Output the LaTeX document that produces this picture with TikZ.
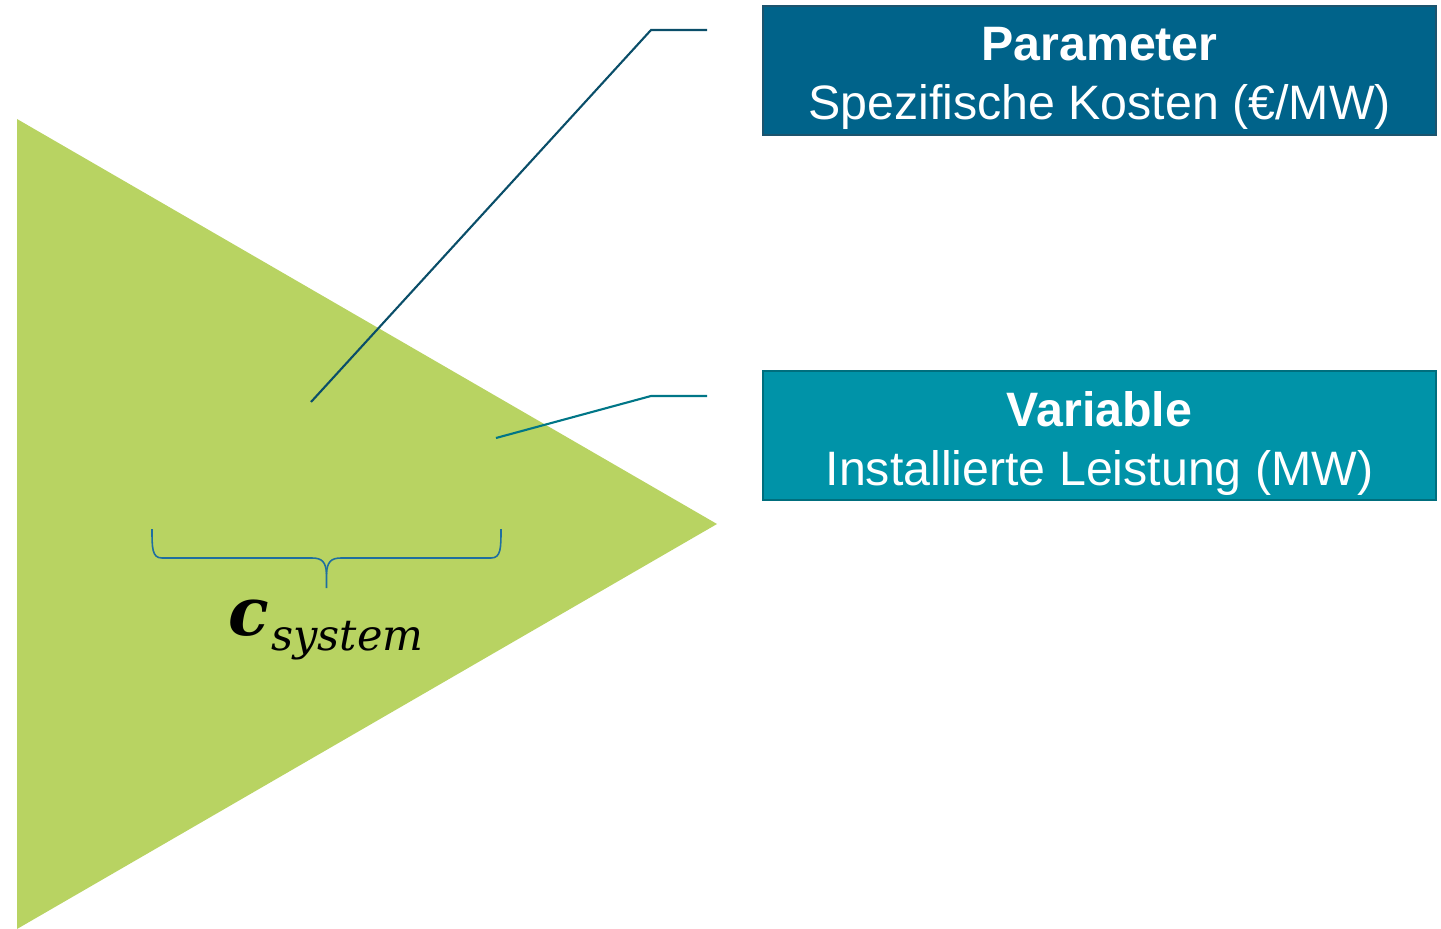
\documentclass[tikz,border=0pt]{standalone}
\usepackage{fontspec}
\setsansfont{Liberation Sans}
\newfontfamily\dvserif{DejaVu Serif}
\definecolor{tri}{RGB}{184,211,98}
\definecolor{pfill}{RGB}{0,99,138}
\definecolor{pborder}{RGB}{28,84,110}
\definecolor{vfill}{RGB}{0,147,168}
\definecolor{vborder}{RGB}{0,110,125}
\definecolor{lineA}{RGB}{10,78,105}
\definecolor{lineB}{RGB}{0,118,135}
\definecolor{bracec}{RGB}{30,110,160}
\tikzset{
  infobox/.style={rectangle, draw, line width=1.2pt, minimum width=13.46cm, minimum height=2.58cm, inner sep=0pt},
  infotext/.style={inner sep=0pt, align=center, text=white, font=\sffamily\fontsize{27.5}{33.5}\selectfont},
  leader/.style={line width=1.2pt}
}
\begin{document}
\begin{tikzpicture}[x=0.02cm,y=-0.02cm]
\useasboundingbox (0,0) rectangle (1441,929);
\fill[tri] (17,119) -- (717,524) -- (17,929) -- cycle;
\node[infobox, fill=pfill, draw=pborder] (param) at (1099.5,70.5) {};
\node[infotext] (paramtext) at ([yshift=-0.16cm]param.center) {\textbf{Parameter}\\Spezifische Kosten (€/MW)};
\node[infobox, fill=vfill, draw=vborder] (var) at (1099.5,435.5) {};
\node[infotext] (vartext) at ([yshift=-0.16cm]var.center) {\textbf{Variable}\\Installierte Leistung (MW)};
\coordinate (a1) at (311,402);
\coordinate (a2) at (651,30);
\coordinate (a3) at (707,30);
\coordinate (b1) at (496,438);
\coordinate (b2) at (651,396);
\coordinate (b3) at (707,396);
\draw[leader, lineA] (a1) -- (a2) -- (a3);
\draw[leader, lineB] (b1) -- (b2) -- (b3);
\draw[bracec, line width=0.9pt] (152,529) .. controls (152,548) and (152,558) .. (162,558) -- (312,558) .. controls (322,558) and (326,562) .. (326.5,574) -- (326.5,588);
\draw[bracec, line width=0.9pt] (501,529) .. controls (501,548) and (501,558) .. (491,558) -- (341,558) .. controls (331,558) and (327,562) .. (326.5,574);
\node[anchor=base west, inner sep=0pt] (csym) at (228,635) {\dvserif\bfseries\itshape\fontsize{38}{40}\selectfont c};
\node[anchor=base west, inner sep=0pt] (csub) at (271,650) {\dvserif\itshape\fontsize{24.5}{28}\selectfont system};
\end{tikzpicture}
\end{document}
